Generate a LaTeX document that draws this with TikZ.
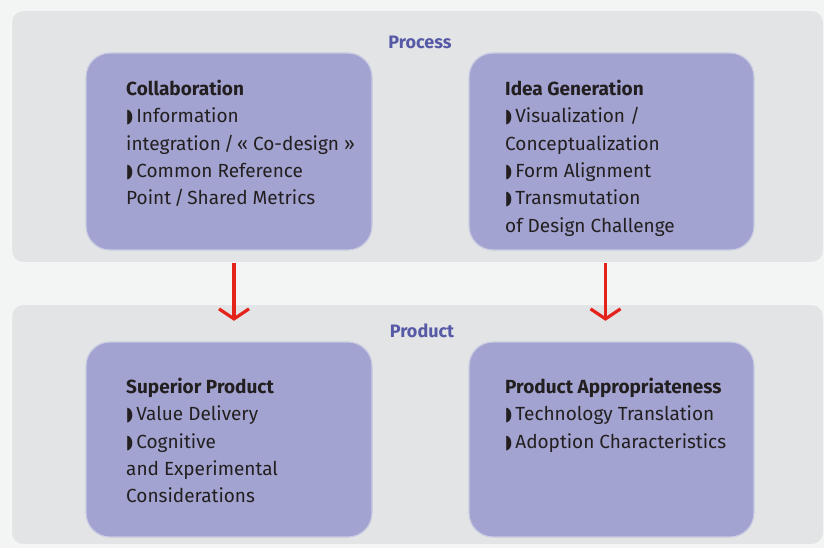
\documentclass[tikz,border=0pt]{standalone}
\usepackage{fontspec}
\setmainfont{Fira Sans}
\newfontfamily\symfont{DejaVu Sans}
\usetikzlibrary{arrows.meta}
\definecolor{pagebg}{HTML}{F3F4F4}
\definecolor{panelfill}{HTML}{E3E4E5}
\definecolor{panelrim}{HTML}{F4F5F5}
\definecolor{boxfill}{HTML}{A2A3D0}
\definecolor{boxrim}{HTML}{C9CBE2}
\definecolor{headcol}{HTML}{5659A6}
\definecolor{arrowred}{HTML}{E5231D}
\definecolor{txt}{HTML}{231F20}
\newcommand{\blt}{{\symfont\scalebox{0.7}[1.0]{◗}}\,}
\tikzset{
  panel/.style={fill=panelfill, draw=panelrim, line width=2pt, rounded corners=12pt},
  itembox/.style={fill=boxfill, draw=boxrim, line width=1.2pt, rounded corners=24pt},
  heading/.style={text=headcol, font=\fontsize{18}{21}\selectfont\bfseries},
  itemtext/.style={text=txt, align=left, anchor=north west, inner sep=0pt,
    font=\fontsize{19}{27.3}\selectfont},
  flow/.style={draw=arrowred, line width=3.5pt,
    -{Straight Barb[length=10pt,width=30pt,line width=3.2pt]}}
}
\begin{document}
\begin{tikzpicture}[x=1pt,y=-1pt]
  \fill[pagebg] (0,0) rectangle (824,548);
  \useasboundingbox (0,0) rectangle (824,548);

  % panels
  \path[panel] (11,10) rectangle (824,263);
  \path[panel] (11,304) rectangle (824,545);
  \node[heading] (process) at (420,42) {Process};
  \node[heading] (product) at (422,331) {Product};

  % boxes
  \path[itembox] (86,53) rectangle (372,250);
  \node[minimum width=286pt, minimum height=197pt, inner sep=0pt] (collab) at (229,151.5) {};
  \path[itembox] (469,53) rectangle (754,250);
  \node[minimum width=285pt, minimum height=197pt, inner sep=0pt] (idea) at (611.5,151.5) {};
  \path[itembox] (86,342) rectangle (372,537);
  \node[minimum width=286pt, minimum height=195pt, inner sep=0pt] (superior) at (229,439.5) {};
  \path[itembox] (469,342) rectangle (754,537);
  \node[minimum width=285pt, minimum height=195pt, inner sep=0pt] (approp) at (611.5,439.5) {};

  % texts
  \node[itemtext] (collabtext) at (126,80) {\textbf{Collaboration}\\
    \blt Information\\
    integration\,/\,« Co-design »\\
    \blt Common Reference\\
    Point\,/\,Shared Metrics};
  \node[itemtext] (ideatext) at (505,80) {\textbf{Idea Generation}\\
    \blt Visualization /\\
    Conceptualization\\
    \blt Form Alignment\\
    \blt Transmutation\\
    of Design Challenge};
  \node[itemtext] (superiortext) at (126,378) {\textbf{Superior Product}\\
    \blt Value Delivery\\
    \blt Cognitive\\
    and Experimental\\
    Considerations};
  \node[itemtext] (approptext) at (505,378) {\textbf{Product Appropriateness}\\
    \blt Technology Translation\\
    \blt Adoption Characteristics};

  % flow arrows
  \draw[flow, shorten <=13pt, shorten >=21pt] ([xshift=5pt]collab.south) -- ([xshift=5pt]superior.north);
  \draw[flow, shorten <=13pt, shorten >=21pt] ([xshift=-6pt]idea.south) -- ([xshift=-6pt]approp.north);
\end{tikzpicture}
\end{document}
